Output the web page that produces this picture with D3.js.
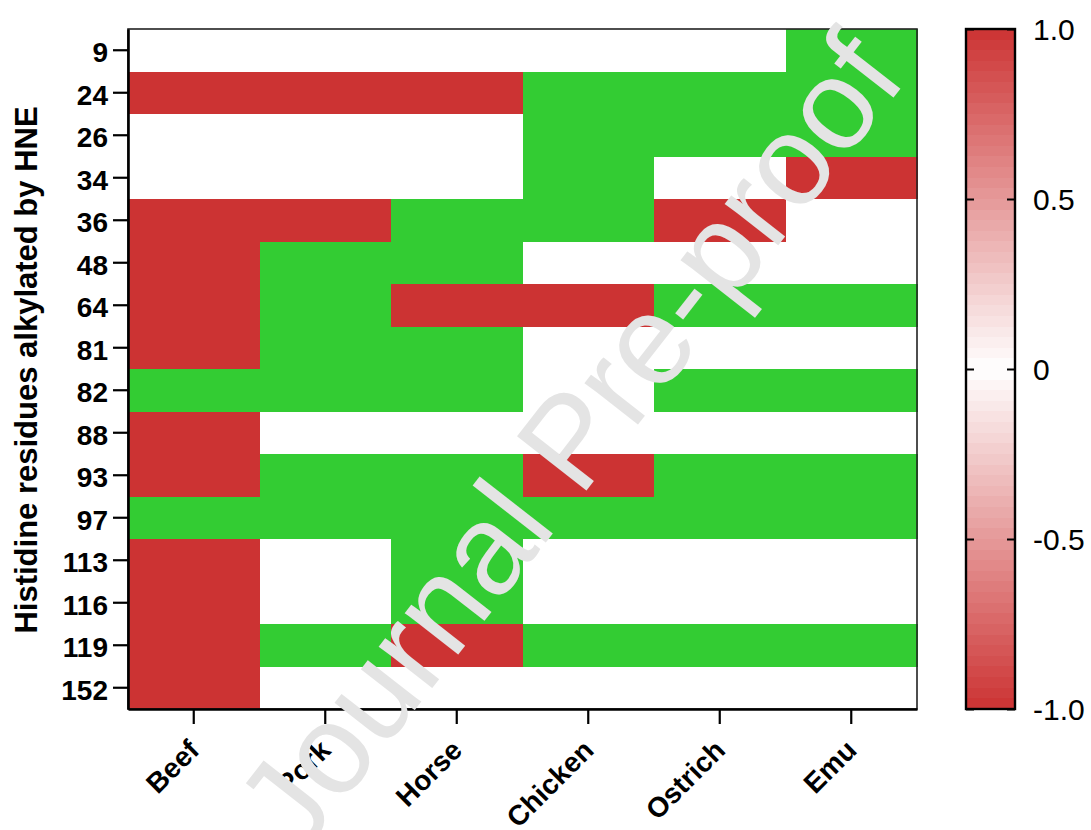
<!DOCTYPE html>
<html>
<head>
<meta charset="utf-8">
<script src="https://cdn.jsdelivr.net/npm/d3@7"></script>
<style>
  body { margin: 0; background: #fff; }
  svg { display: block; font-family: "Liberation Sans", Arial, Helvetica, sans-serif; }
</style>
</head>
<body>
<svg id="chart" width="1091" height="830"></svg>
<script>
// Species (columns) and histidine residue positions (rows)
const species = ["Beef", "Pork", "Horse", "Chicken", "Ostrich", "Emu"];
const residues = ["9", "24", "26", "34", "36", "48", "64", "81", "82", "88", "93", "97", "113", "116", "119", "152"];

// Per-species values in residue order: 1 = alkylated, 0 = not alkylated,
// null = histidine not present at that position (drawn green)
const beef    = [0, 1, 0, 0, 1, 1, 1, 1, null, 1, 1, null, 1, 1, 1, 1];
const pork    = [0, 1, 0, 0, 1, null, null, null, null, 0, null, null, 0, 0, null, 0];
const horse   = [0, 1, 0, 0, null, null, 1, null, null, 0, null, null, null, null, 1, 0];
const chicken = [0, null, null, null, null, 0, 1, 0, 0, 0, 1, null, 0, 0, null, 0];
const ostrich = [0, null, null, 0, 1, 0, null, 0, null, 0, null, null, 0, 0, null, 0];
const emu     = [null, null, null, 1, 0, 0, null, 0, null, 0, null, null, 0, 0, null, 0];

const seriesBySpecies = [beef, pork, horse, chicken, ostrich, emu];

// Colour bar
const colorbarTicks = [-1, -0.5, 0, 0.5, 1];
const colorbarLabels = ["-1.0", "-0.5", "0", "0.5", "1.0"];

const RED = "#cc3333";
const GREEN = "#33cc33";

const cells = [];
species.forEach((sp, i) => {
  residues.forEach((r, j) => {
    cells.push({ species: sp, residue: r, value: seriesBySpecies[i][j] });
  });
});

const svg = d3.select("#chart");

const plot = { left: 128, right: 917, top: 29, bottom: 709 };

const x = d3.scaleBand().domain(species).range([plot.left, plot.right]).padding(0);
const y = d3.scaleBand().domain(residues).range([plot.top, plot.bottom]).padding(0);
const color = d3.scaleLinear().domain([-1, 0, 1]).range([RED, "#ffffff", RED]);

// Heatmap cells
svg.append("g")
  .selectAll("rect")
  .data(cells)
  .join("rect")
  .attr("x", d => x(d.species))
  .attr("y", d => y(d.residue))
  .attr("width", x.bandwidth() + 0.5)
  .attr("height", y.bandwidth() + 0.5)
  .attr("fill", d => d.value === null ? GREEN : color(d.value))
  .attr("shape-rendering", "crispEdges");

// Frame (top and right edges)
svg.append("rect")
  .attr("x", plot.left)
  .attr("y", plot.top)
  .attr("width", plot.right - plot.left)
  .attr("height", plot.bottom - plot.top)
  .attr("fill", "none")
  .attr("stroke", "#222")
  .attr("stroke-width", 1.6);

// Y axis
const yAxis = svg.append("g")
  .attr("transform", `translate(${plot.left},0)`)
  .call(d3.axisLeft(y).tickSize(15).tickPadding(5).tickSizeOuter(0));
yAxis.select(".domain").attr("stroke", "#000").attr("stroke-width", 2.6);
yAxis.selectAll(".tick line").attr("stroke", "#000").attr("stroke-width", 2.2);
yAxis.selectAll(".tick text")
  .attr("font-size", 28)
  .attr("font-weight", "bold")
  .attr("fill", "#000")
  .attr("dy", "0.42em")
  .attr("font-family", "Liberation Sans, Arial, sans-serif");

// X axis
const xAxis = svg.append("g")
  .attr("transform", `translate(0,${plot.bottom})`)
  .call(d3.axisBottom(x).tickSize(15).tickSizeOuter(0));
xAxis.select(".domain").attr("stroke", "#000").attr("stroke-width", 2.6);
xAxis.selectAll(".tick line").attr("stroke", "#000").attr("stroke-width", 2.2);
xAxis.selectAll(".tick text")
  .attr("font-size", 28)
  .attr("font-weight", "bold")
  .attr("fill", "#000")
  .attr("font-family", "Liberation Sans, Arial, sans-serif")
  .attr("text-anchor", "end")
  .attr("y", 0)
  .attr("dy", 0)
  .attr("transform", "translate(7,43) rotate(-45)");

// Y axis title
svg.append("text")
  .attr("transform", `translate(37,${(plot.top + plot.bottom) / 2 + 1}) rotate(-90)`)
  .attr("text-anchor", "middle")
  .attr("font-size", 31)
  .attr("font-weight", "bold")
  .attr("fill", "#000")
  .text("Histidine residues alkylated by HNE");

// Colour bar
const cb = { left: 966, right: 1015, top: 29, bottom: 709 };
const cbScale = d3.scaleLinear().domain([-1, 1]).range([cb.bottom, cb.top]);

const defs = svg.append("defs");
const grad = defs.append("linearGradient")
  .attr("id", "cbGrad")
  .attr("x1", 0).attr("y1", 1).attr("x2", 0).attr("y2", 0);
// stepped bands
const nBands = 64;
for (let k = 0; k < nBands; k++) {
  const v = -1 + (k + 0.5) * 2 / nBands;
  grad.append("stop").attr("offset", k / nBands).attr("stop-color", color(v));
  grad.append("stop").attr("offset", (k + 1) / nBands).attr("stop-color", color(v));
}

svg.append("rect")
  .attr("x", cb.left)
  .attr("y", cb.top)
  .attr("width", cb.right - cb.left)
  .attr("height", cb.bottom - cb.top)
  .attr("fill", "url(#cbGrad)");

const cbRight = svg.append("g")
  .attr("transform", `translate(${cb.right},0)`)
  .call(d3.axisRight(cbScale)
    .tickValues(colorbarTicks)
    .tickFormat((d, i) => colorbarLabels[i])
    .tickSize(-8)
    .tickPadding(18)
    .tickSizeOuter(0));
cbRight.select(".domain").remove();
cbRight.selectAll(".tick line").attr("stroke", "#000").attr("stroke-width", 2);
cbRight.selectAll(".tick text")
  .attr("font-size", 30)
  .attr("fill", "#000")
  .attr("dy", "0.36em")
  .attr("font-family", "Liberation Sans, Arial, sans-serif");

const cbLeft = svg.append("g")
  .attr("transform", `translate(${cb.left},0)`)
  .call(d3.axisLeft(cbScale)
    .tickValues(colorbarTicks)
    .tickFormat("")
    .tickSize(-8)
    .tickSizeOuter(0));
cbLeft.select(".domain").remove();
cbLeft.selectAll(".tick line").attr("stroke", "#000").attr("stroke-width", 2);

svg.append("rect")
  .attr("x", cb.left)
  .attr("y", cb.top)
  .attr("width", cb.right - cb.left)
  .attr("height", cb.bottom - cb.top)
  .attr("fill", "none")
  .attr("stroke", "#000")
  .attr("stroke-width", 2.4);

// Watermark (baseline centre point, rotated along the diagonal)
svg.append("text")
  .attr("transform", "translate(604,468) rotate(-52)")
  .attr("text-anchor", "middle")
  .attr("font-size", 128)
  .attr("fill", "#e4e4e4")
  .attr("font-family", "Liberation Sans, Arial, sans-serif")
  .text("Journal Pre-proof");
</script>
</body>
</html>
